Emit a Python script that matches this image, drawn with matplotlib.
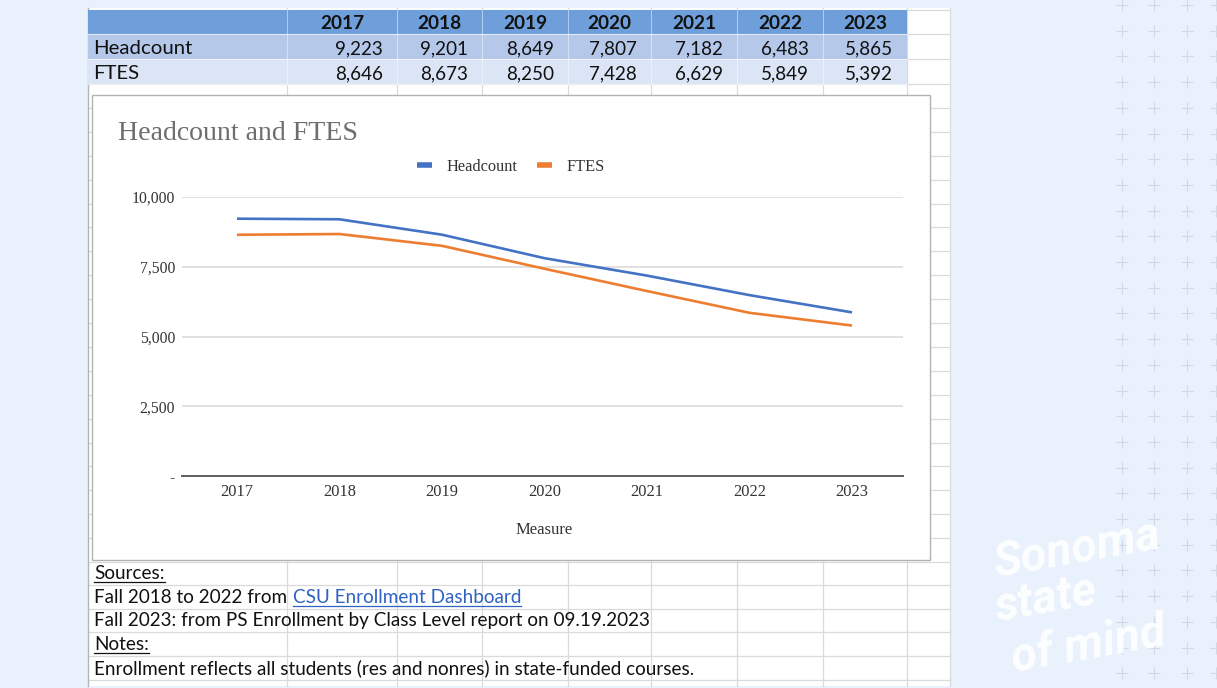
import matplotlib
matplotlib.use('Agg')
import matplotlib.pyplot as plt
from matplotlib import font_manager
from matplotlib.patches import Rectangle
from matplotlib.lines import Line2D
from matplotlib.ticker import FuncFormatter, FixedLocator
import numpy as np

# ---------------- data ----------------
years = ['2017', '2018', '2019', '2020', '2021', '2022', '2023']
headcount = [9223, 9201, 8649, 7807, 7182, 6483, 5865]
ftes = [8646, 8673, 8250, 7428, 6629, 5849, 5392]
row_labels = ['Headcount', 'FTES']
y_ticks = [0, 2500, 5000, 7500, 10000]
chart_title = 'Headcount and FTES'
x_title = 'Measure'
series_colors = ['#4472c4', '#ed7d31']

# ---------------- canvas ----------------
W, H = 1217, 688
fig = plt.figure(figsize=(W / 100, H / 100), dpi=100)
bg = fig.add_axes([0, 0, 1, 1])
bg.set_xlim(0, W)
bg.set_ylim(H, 0)
bg.axis('off')
bg.set_zorder(0)
fig.patch.set_facecolor('#e8f1fc')

SANS = ['Lato', 'DejaVu Sans']
SERIF = ['Liberation Serif', 'DejaVu Serif']
installed = {f.name for f in font_manager.fontManager.ttflist}
LOGO = 'Roboto' if 'Roboto' in installed else 'DejaVu Sans'

fig.canvas.draw()
R = fig.canvas.get_renderer()


def fit_size(s, target_w, family, weight='normal', style='normal', base=12.0):
    t = bg.text(0, 0, s, fontsize=base, family=family, weight=weight, style=style)
    w = t.get_window_extent(renderer=R).width
    t.remove()
    return base * target_w / w


def px_width(s, size, family, weight='normal'):
    t = bg.text(0, 0, s, fontsize=size, family=family, weight=weight)
    w = t.get_window_extent(renderer=R).width
    t.remove()
    return w


# ---------------- spreadsheet ----------------
SX0, SX1, SY0, SY1 = 88, 950, 8, 686
bg.add_patch(Rectangle((SX0, SY0), SX1 - SX0, SY1 - SY0, facecolor='white',
                       edgecolor='none', zorder=1))
col_edges = [88, 287, 397, 482, 568, 651, 737, 823, 907, 950]
row_edges = [10, 34, 59, 84] + list(np.linspace(84, 562, 21)[1:]) + [585, 609, 632, 656, 680]
for xv in col_edges[1:]:
    bg.plot([xv, xv], [SY0, SY1], color='#dadada', lw=0.9, zorder=1.2)
for yv in row_edges:
    bg.plot([SX0, SX1], [yv, yv], color='#dadada', lw=0.9, zorder=1.2)
bg.plot([SX0, SX0], [SY0, SY1], color='#b5b5b5', lw=1.0, zorder=1.3)

# table fills
TX0, TX1 = col_edges[0], col_edges[-2]
bg.add_patch(Rectangle((TX0, 10), TX1 - TX0, 24, facecolor='#6f9fda', edgecolor='none', zorder=2))
bg.add_patch(Rectangle((TX0, 34), TX1 - TX0, 25, facecolor='#b5c8ea', edgecolor='none', zorder=2))
bg.add_patch(Rectangle((TX0, 59), TX1 - TX0, 25, facecolor='#dbe5f5', edgecolor='none', zorder=2))
for xv in col_edges[1:-2]:
    bg.plot([xv, xv], [10, 84], color='white', lw=0.8, alpha=0.45, zorder=2.1)
for yv in [34, 59, 84]:
    bg.plot([TX0, TX1], [yv, yv], color='white', lw=0.8, alpha=0.6, zorder=2.1)

tbl_size = fit_size('Headcount', 99, SANS)
hdr_size = fit_size('2017', 44, SANS, weight='bold')
val_size = fit_size('9,223', 48, SANS)

for i, yr in enumerate(years):
    cx = (col_edges[i + 1] + col_edges[i + 2]) / 2
    bg.text(cx, 29, yr, ha='center', va='baseline', fontsize=hdr_size,
            family=SANS, weight='bold', color='#111111', zorder=3)
bg.text(93, 54, row_labels[0], ha='left', va='baseline', fontsize=tbl_size,
        family=SANS, color='#111111', zorder=3)
bg.text(93, 79, row_labels[1], ha='left', va='baseline', fontsize=tbl_size,
        family=SANS, color='#111111', zorder=3)
for i in range(len(years)):
    rx = col_edges[i + 2] - 14
    bg.text(rx, 54, f'{headcount[i]:,}', ha='right', va='baseline', fontsize=val_size,
            family=SANS, color='#111111', zorder=3)
    bg.text(rx, 79, f'{ftes[i]:,}', ha='right', va='baseline', fontsize=val_size,
            family=SANS, color='#111111', zorder=3)

# ---------------- notes below chart ----------------
note_size = fit_size('Enrollment reflects all students (res and nonres) in state-funded courses.', 598, SANS)


def note(xp, yp, s, color='#111111', underline=False):
    bg.text(xp, yp, s, ha='left', va='baseline', fontsize=note_size, family=SANS,
            color=color, zorder=3)
    if underline:
        w = px_width(s, note_size, SANS)
        bg.plot([xp, xp + w], [yp + 2.5, yp + 2.5], color=color, lw=0.9, zorder=3)


note(94, 579, 'Sources:', underline=True)
note(94, 603, 'Fall 2018 to 2022 from')
note(293, 603, 'CSU Enrollment Dashboard', color='#2f62c2', underline=True)
note(94, 626, 'Fall 2023: from PS Enrollment by Class Level report on 09.19.2023')
note(94, 650, 'Notes:', underline=True)
note(94, 674, 'Enrollment reflects all students (res and nonres) in state-funded courses.')

# ---------------- chart box ----------------
bg.add_patch(Rectangle((92, 95), 930 - 92, 560 - 95, facecolor='white',
                       edgecolor='#b3b3b3', lw=1.0, zorder=4))

title_size = fit_size(chart_title, 239, SERIF)
bg.text(118, 140, chart_title, ha='left', va='baseline', fontsize=title_size,
        family=SERIF, color='#6e6e6e', zorder=5)
bg.text(544, 534, x_title, ha='center', va='baseline', fontsize=12,
        family=SERIF, color='#333333', zorder=5)

# plot axes in pixel geometry
px0, px1, py_top, py_bot = 182, 903, 197, 476
ax = fig.add_axes([px0 / W, 1 - py_bot / H, (px1 - px0) / W, (py_bot - py_top) / H])
ax.set_zorder(2)
ax.patch.set_alpha(0)
xi = np.arange(len(years))
step = (852 - 237) / 6
ax.set_xlim((px0 - 237) / step, (px1 - 237) / step)
ax.set_ylim(0, 10000)

ax.plot(xi, headcount, color=series_colors[0], lw=1.9, solid_capstyle='butt',
        solid_joinstyle='round')
ax.plot(xi, ftes, color=series_colors[1], lw=1.9, solid_capstyle='butt',
        solid_joinstyle='round')

ax.yaxis.set_major_locator(FixedLocator(y_ticks))
ax.yaxis.set_major_formatter(FuncFormatter(lambda v, p: '-' if v == 0 else f'{v:,.0f}'))
ax.set_xticks(xi)
ax.set_xticklabels(years)
ax.grid(axis='y', color='#d9d9d9', lw=1.1)
ax.set_axisbelow(True)
for s in ['top', 'right', 'left']:
    ax.spines[s].set_visible(False)
ax.spines['bottom'].set_color('#5f5f5f')
ax.spines['bottom'].set_linewidth(1.4)
ax.tick_params(axis='both', length=0, labelsize=11.3, labelcolor='#333333')
ax.tick_params(axis='y', pad=5)
ax.tick_params(axis='x', pad=6, labelsize=11.8)
for lab in ax.get_xticklabels() + ax.get_yticklabels():
    lab.set_family(SERIF)

handles = [Line2D([], [], color=series_colors[0], lw=4, solid_capstyle='butt'),
           Line2D([], [], color=series_colors[1], lw=4, solid_capstyle='butt')]
leg = fig.legend(handles, row_labels, loc='center', ncol=2,
                 bbox_to_anchor=(511 / W, 1 - 167 / H), frameon=False,
                 prop={'family': SERIF, 'size': 11.8}, handlelength=0.9,
                 handletextpad=0.9, columnspacing=1.2)
for t in leg.get_texts():
    t.set_color('#333333')
leg.set_zorder(6)

# ---------------- background decoration ----------------
cx_cols = [1122, 1154, 1187, 1216]
cy_rows = np.arange(5, 688, 25.7)
for cxp in cx_cols:
    bg.plot([cxp] * len(cy_rows), cy_rows, linestyle='none', marker='+', ms=8,
            mew=0.8, color='#9aa6b4', alpha=0.3, zorder=0.5)

logo_size = fit_size('Sonoma', 168, LOGO, weight='bold', style='italic')
logo_kw = dict(color='white', alpha=0.9, family=LOGO, weight='bold',
               style='italic', rotation=10, rotation_mode='anchor',
               ha='left', va='baseline', zorder=0.8, fontsize=logo_size)
bg.text(996, 578, 'Sonoma', **logo_kw)
bg.text(998, 622, 'state', **logo_kw)
bg.text(1014, 672, 'of mind', **logo_kw)

fig.savefig('out.png', dpi=100, facecolor=fig.get_facecolor())
